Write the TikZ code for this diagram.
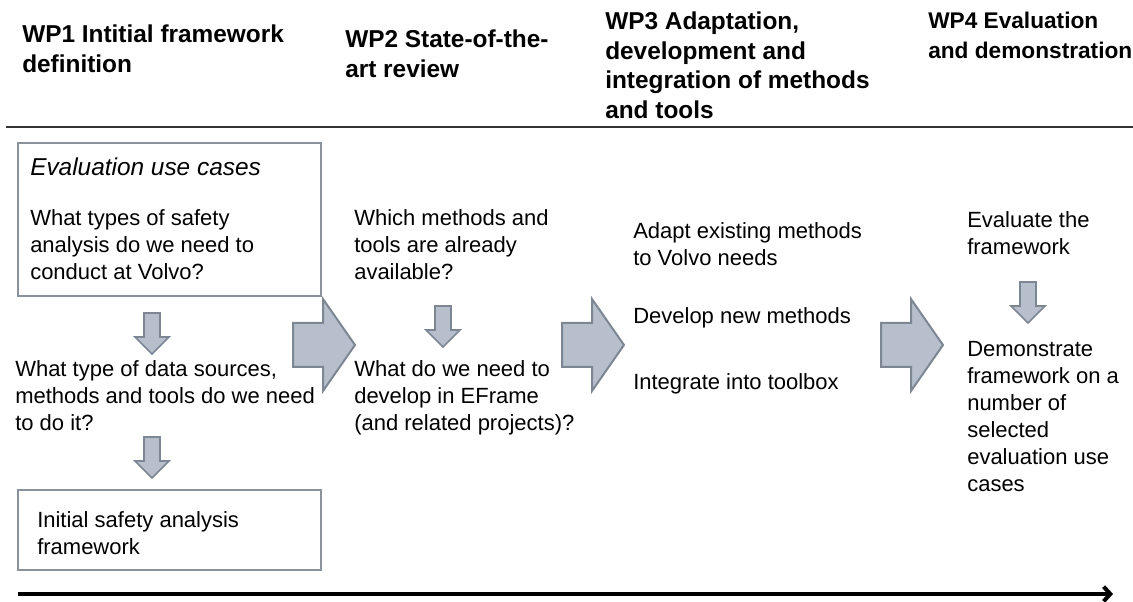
\documentclass[tikz,border=0pt]{standalone}
\usepackage{fontspec}
\setmainfont{Liberation Sans}
\usetikzlibrary{arrows.meta}

\definecolor{arrowfill}{RGB}{182,191,203}
\definecolor{arrowline}{RGB}{125,135,148}
\definecolor{boxline}{RGB}{138,146,156}

\newcommand{\bodyfont}{\fontsize{16.5}{20.25}\selectfont}
\newcommand{\headfont}{\fontsize{18.3}{22.1}\selectfont\bfseries}
\newcommand{\titlefont}{\fontsize{18.3}{22.1}\selectfont\itshape}

\begin{document}
\begin{tikzpicture}[
                x=0.75pt, y=-0.75pt,
                head/.style={anchor=north west,inner sep=0pt,align=left,font=\headfont},
                txt/.style={anchor=north west,inner sep=0pt,align=left,font=\bodyfont},
                box/.style={draw=boxline,line width=1.5pt},
                bigarrow/.style={draw=arrowline,fill=arrowfill,line width=1.5pt},
                smallarrow/.style={draw=arrowline,fill=arrowfill,line width=1.3pt},
            ]
            \useasboundingbox (0,0) rectangle (1133,602);

            % Define headings
            \node[head] (wp1) at (22,25) {WP1 Intitial framework\\definition};
            \node[head] (wp2) at (345,30) {WP2 State-of-the-\\art review};
            \node[head] (wp3) at (605,12) {WP3 Adaptation,\\development and\\integration of methods\\and tools};
            \node[head,font=\fontsize{17}{22.1}\selectfont\bfseries] (wp4) at (928,12) {WP4 Evaluation\\and demonstration};

            % Rule under the headings
            \coordinate (r0) at (6,127);
            \coordinate (r1) at (1133,127);
            \draw[line width=1.6pt,black!80] (r0) -- (r1);

            % WP1 column
            \draw[box] (18,143) rectangle (321,296);
            \node[txt,font=\titlefont] (usecases) at (30,158) {Evaluation use cases};
            \node[txt] (q1) at (30,209) {What types of safety\\analysis do we need to\\conduct at Volvo?};
            \node[txt] (q2) at (15,360) {What type of data sources,\\methods and tools do we need\\to do it?};
            \draw[box] (18,490) rectangle (321,570);
            \node[txt] (initfw) at (37,511) {Initial safety analysis\\framework};

            % WP2 column
            \node[txt] (q3) at (354,209) {Which methods and\\tools are already\\available?};
            \node[txt] (q4) at (354,360) {What do we need to\\develop in EFrame\\(and related projects)?};

            % WP3 column
            \node[txt] (adapt) at (633,222) {Adapt existing methods\\to Volvo needs};
            \node[txt] (develop) at (633,307) {Develop new methods};
            \node[txt] (integrate) at (633,373) {Integrate into toolbox};

            % WP4 column
            \node[txt] (evaluate) at (967,211) {Evaluate the\\framework};
            \node[txt] (demo) at (967,341) {Demonstrate\\framework on a\\number of\\selected\\evaluation use\\cases};

            % Block arrows between the work packages
            \foreach \x in {293,562,881}
                \draw[bigarrow] (\x,323) -- ++(30,0) -- ++(0,-24) -- ++(32,46) -- ++(-32,46)
                    -- ++(0,-24) -- ++(-30,0) -- cycle;

            % Small arrows inside the columns
            \foreach \x/\y in {152/313,152/437,443/306,1028/282}
                \draw[smallarrow] (\x-8,\y) -- ++(16,0) -- ++(0,24) -- ++(9,0) -- ++(-17,17)
                    -- ++(-17,-17) -- ++(9,0) -- cycle;

            % Time line
            \coordinate (t0) at (18,594);
            \coordinate (t1) at (1113,594);
            \draw[line width=3pt,-{Straight Barb[length=5pt,width=11pt]}] (t0) -- (t1);

\end{tikzpicture}
\end{document}
